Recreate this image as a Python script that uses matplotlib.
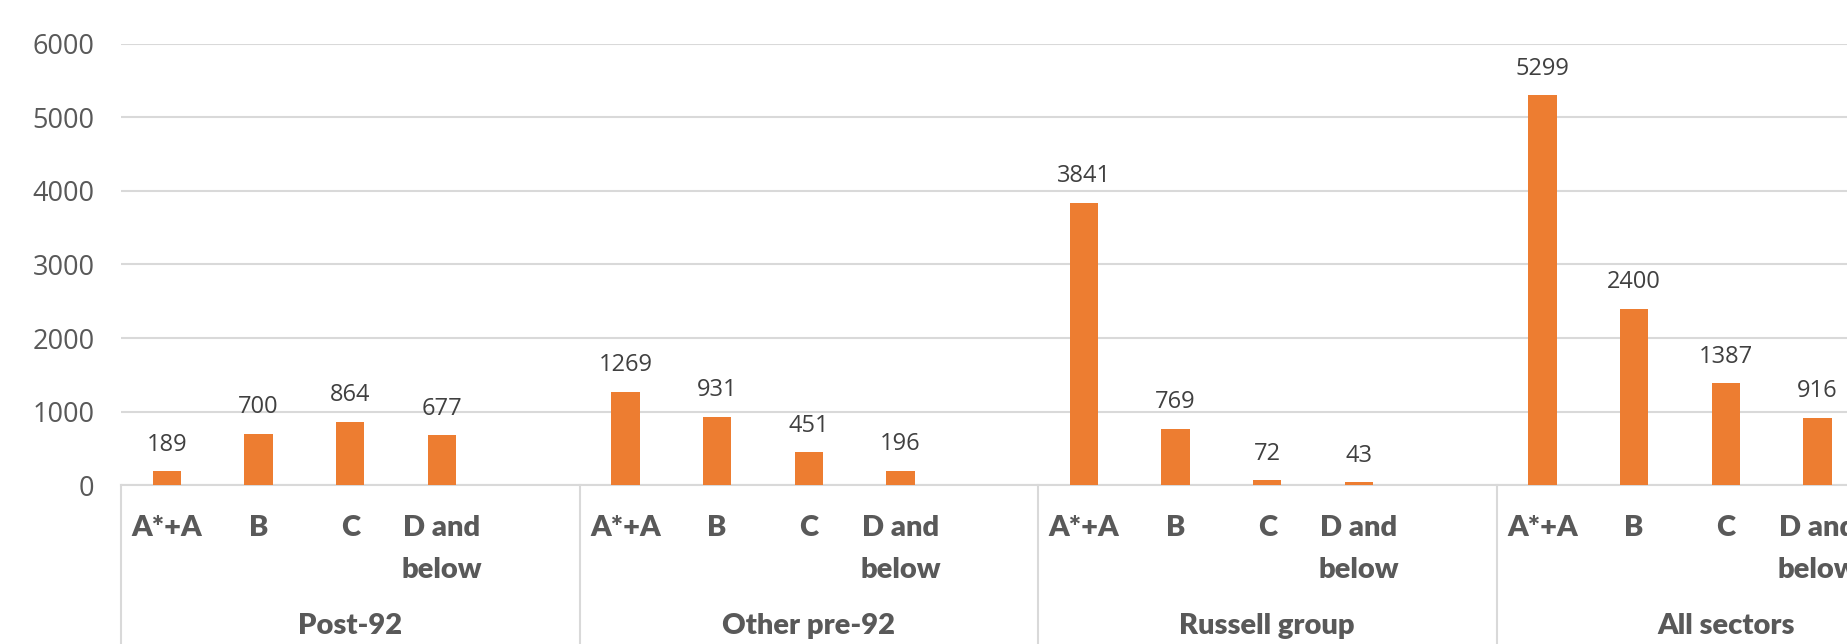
import matplotlib
matplotlib.use("Agg")
import matplotlib.pyplot as plt

groups = ["Post-92", "Other pre-92", "Russell group", "All sectors"]
grades = ["A*+A", "B", "C", "D and\nbelow"]
post92 = [189, 700, 864, 677]
other_pre92 = [1269, 931, 451, 196]
russell = [3841, 769, 72, 43]
all_sectors = [5299, 2400, 1387, 916]
yticks = [0, 1000, 2000, 3000, 4000, 5000, 6000]

series = [post92, other_pre92, russell, all_sectors]
slots_per_group = len(grades) + 1  # one blank slot closes each group

W, H, DPI = 1847, 644, 100
fig = plt.figure(figsize=(W / DPI, H / DPI), dpi=DPI)
ax_left, ax_bottom, ax_top = 121, 485.3, 43.6
slot_px = 91.7
ax = fig.add_axes([ax_left / W, (H - ax_bottom) / H,
                   (W - ax_left) / W, (ax_bottom - ax_top) / H])

orange = "#ED7D31"
grid_c = "#D9D9D9"
tick_c = "#595959"
label_c = "#404040"

xs, vals, labels = [], [], []
for g, vs in enumerate(series):
    for i, v in enumerate(vs):
        xs.append(g * slots_per_group + i)
        vals.append(v)
        labels.append(grades[i])

bars = ax.bar(xs, vals, width=0.31, color=orange, zorder=3)
for b, v in zip(bars, vals):
    ax.annotate(f"{v}", (b.get_x() + b.get_width() / 2, v),
                xytext=(0, 19), textcoords="offset points",
                ha="center", va="center", fontsize=17,
                color=label_c, family="Open Sans", zorder=4)

ax.set_xlim(-0.5, -0.5 + (W - ax_left) / slot_px)
ax.set_ylim(0, 6000)
ax.set_yticks(yticks)
ax.set_yticklabels([str(t) for t in yticks], fontsize=19.5,
                   color=tick_c, family="Open Sans")
ax.tick_params(axis="y", length=0, pad=19)
ax.set_xticks([])
ax.yaxis.grid(True, color=grid_c, linewidth=1.5, zorder=0)
ax.set_axisbelow(True)
for s in ["top", "right", "left"]:
    ax.spines[s].set_visible(False)
ax.spines["bottom"].set_color(grid_c)
ax.spines["bottom"].set_linewidth(1.5)

trans = ax.get_xaxis_transform()
# grade labels beneath each bar
for x, lab in zip(xs, labels):
    ax.text(x, -0.067, lab, transform=trans, ha="center", va="top",
            fontsize=21, fontweight="heavy", color=tick_c, family="Lato",
            linespacing=1.75, clip_on=False)

# group labels and separators
for g, name in enumerate(groups):
    start = g * slots_per_group - 0.5
    center = start + slots_per_group / 2
    ax.text(center, -0.318, name, transform=trans, ha="center", va="center",
            fontsize=21, fontweight="heavy", color=tick_c, family="Lato",
            clip_on=False)
    ax.plot([start, start], [0, -0.5], transform=trans, color=grid_c,
            linewidth=1.5, clip_on=False)

fig.savefig("out.png", dpi=DPI)
